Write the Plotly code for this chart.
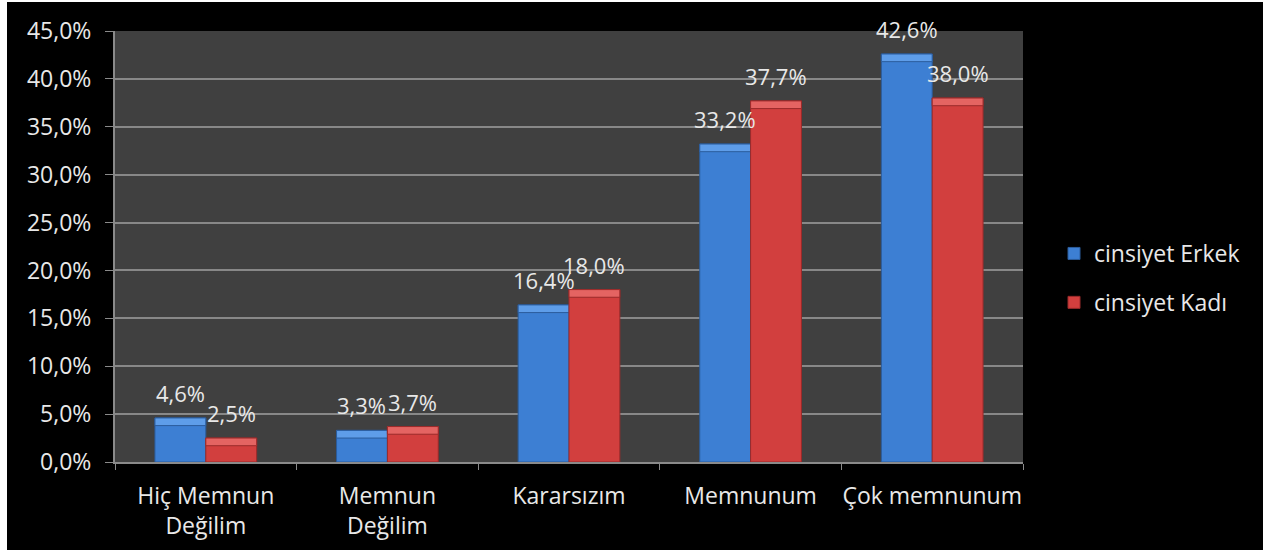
import plotly.graph_objects as go

# Satisfaction levels and share of respondents by gender (%)
categories = ["Hiç Memnun<br>Değilim", "Memnun<br>Değilim", "Kararsızım", "Memnunum", "Çok memnunum"]
erkek = [4.6, 3.3, 16.4, 33.2, 42.6]
kadin = [2.5, 3.7, 18.0, 37.7, 38.0]
series_names = ["cinsiyet Erkek", "cinsiyet Kadı"]
y_ticks = [0, 5, 10, 15, 20, 25, 30, 35, 40, 45]
y_tick_labels = ["0,0%", "5,0%", "10,0%", "15,0%", "20,0%", "25,0%", "30,0%", "35,0%", "40,0%", "45,0%"]

W, H = 1270, 552
ML, MR, MT, MB = 115, 247, 31, 90
FONT = "'Open Sans', sans-serif"
FS = 23
LABEL_FS = 22
TXT = "#e8e8e8"

BLUE = "#3d7fd3"
BLUE_EDGE = "#2b5c9c"
BLUE_TOP = "#5e9de9"
RED = "#d23f3e"
RED_EDGE = "#9a2a2a"
RED_TOP = "#e46462"

BEVEL = 0.8  # height of the lighter top face, in axis units

fig = go.Figure()
for name, vals, col, edge_col, top_col, grp in (
    (series_names[0], erkek, BLUE, BLUE_EDGE, BLUE_TOP, "e"),
    (series_names[1], kadin, RED, RED_EDGE, RED_TOP, "k"),
):
    fig.add_trace(go.Bar(
        x=categories, y=vals, name=name, offsetgroup=grp, legendgroup=grp,
        marker=dict(color=col, line=dict(color=edge_col, width=1)),
    ))
    # lighter bevelled top face of each bar
    fig.add_trace(go.Bar(
        x=categories, y=[BEVEL] * len(vals), base=[v - BEVEL for v in vals],
        offsetgroup=grp, legendgroup=grp, showlegend=False, hoverinfo="skip",
        marker=dict(color=top_col, line=dict(color=edge_col, width=1)),
    ))

# value labels above each bar
plot_w = W - ML - MR
cat_w = plot_w / len(categories)
bargap = 0.44
half = cat_w * (1 - bargap) / 4

def fmt(v):
    return f"{v:.1f}".replace(".", ",") + "%"

annotations = []
for vals, sign in ((erkek, -1), (kadin, 1)):
    for c, v in zip(categories, vals):
        annotations.append(dict(
            x=c, y=v, xref="x", yref="y", text=fmt(v), showarrow=False,
            xshift=sign * half, yshift=25, yanchor="middle",
            font=dict(family=FONT, size=LABEL_FS, color=TXT),
        ))

# thin white page edges around the black canvas
edge = dict(type="rect", xref="paper", yref="paper", fillcolor="white",
            line=dict(width=0), layer="above")
def px_x(p):
    return (p - ML) / plot_w
def px_y(p):
    plot_h = H - MT - MB
    return (H - MB - p) / plot_h

shapes = [
    dict(edge, x0=px_x(0), x1=px_x(7), y0=px_y(H), y1=px_y(0)),
    dict(edge, x0=px_x(1263), x1=px_x(W), y0=px_y(H), y1=px_y(0)),
    dict(edge, x0=px_x(0), x1=px_x(W), y0=px_y(2), y1=px_y(0)),
    dict(edge, x0=px_x(0), x1=px_x(W), y0=px_y(H), y1=px_y(550)),
]

fig.update_layout(
    width=W, height=H,
    margin=dict(l=ML, r=MR, t=MT, b=MB, autoexpand=False),
    paper_bgcolor="black",
    plot_bgcolor="#404040",
    barmode="group",
    bargap=bargap,
    bargroupgap=0,
    font=dict(family=FONT, size=FS, color=TXT),
    showlegend=True,
    legend=dict(
        x=px_x(1054), y=px_y(278), xanchor="left", yanchor="middle",
        bgcolor="rgba(0,0,0,0)", font=dict(family=FONT, size=FS, color=TXT),
        traceorder="grouped", tracegroupgap=16, itemwidth=30,
    ),
    annotations=annotations,
    shapes=shapes,
)
fig.update_xaxes(
    showgrid=False, showline=True, linecolor="#8a8a8a", linewidth=2,
    ticks="outside", tickson="boundaries", ticklen=6, tickcolor="#8a8a8a",
    tickfont=dict(family=FONT, size=FS, color=TXT), tickangle=0,
    ticklabelstandoff=12,
)
fig.update_yaxes(
    range=[0, 45], tickvals=y_ticks, ticktext=y_tick_labels,
    showgrid=True, gridcolor="#888888", gridwidth=1.5,
    showline=True, linecolor="#8a8a8a", linewidth=2,
    ticks="outside", ticklen=8, tickcolor="#8a8a8a",
    tickfont=dict(family=FONT, size=FS, color=TXT),
    ticklabelstandoff=9, zeroline=False,
)

fig.write_html("out.html")
